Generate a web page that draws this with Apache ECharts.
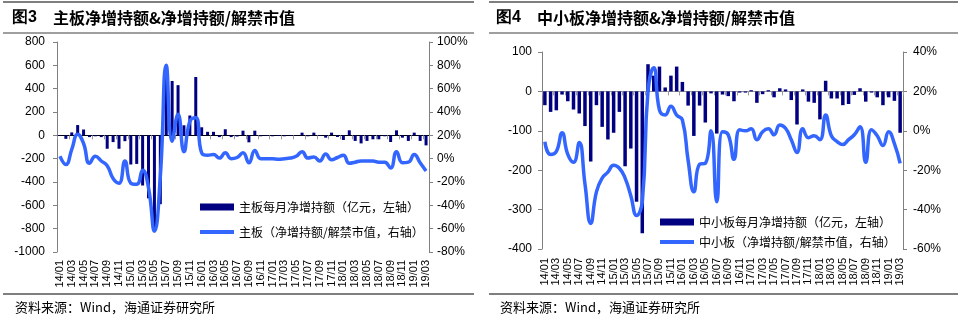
<!DOCTYPE html>
<html><head><meta charset="utf-8">
<script src="https://cdn.jsdelivr.net/npm/echarts@6/dist/echarts.min.js"></script>
<style>html,body{margin:0;padding:0;background:#fff}#c{width:969px;height:323px}</style>
</head><body><div id="c"></div>
<script>
const months = ['14/01','14/02','14/03','14/04','14/05','14/06','14/07','14/08','14/09','14/10','14/11','14/12',
'15/01','15/02','15/03','15/04','15/05','15/06','15/07','15/08','15/09','15/10','15/11','15/12',
'16/01','16/02','16/03','16/04','16/05','16/06','16/07','16/08','16/09','16/10','16/11','16/12',
'17/01','17/02','17/03','17/04','17/05','17/06','17/07','17/08','17/09','17/10','17/11','17/12',
'18/01','18/02','18/03','18/04','18/05','18/06','18/07','18/08','18/09','18/10','18/11','18/12',
'19/01','19/02','19/03'];

// 主板每月净增持额（亿元）
const mainNet = [-5,-30,25,88,50,-15,-8,-15,-115,-58,-115,-50,
-250,-245,-430,-540,-830,-590,600,466,430,86,170,500,
69,30,30,-15,52,-15,-10,40,-60,40,-8,-5,
-8,-5,-8,-5,-3,23,-8,23,-5,-20,23,-14,
-40,43,-48,-69,-48,-34,-34,-8,-57,43,-20,-48,
23,-48,-86];
// 主板（净增持额/解禁市值，%）
const mainRatio = [2,-5,8,21,13,-4,2,-2,-6,-17,-21,-2,
-21,-22,-10,-25,-62,-15,80,15,38,6,32,35,
5,3,3.5,0.5,5,0,1,5,-3.5,7,0,0,
0,-0.5,0,0.5,2,6,0.5,1.5,-2,4,-1,1,
3,-4,-3,-2,-2,-2,-3,-3,-8,6,-3.5,-3,
3.5,-3.5,-10.5];
// 中小板每月净增持额（亿元）
const smeNet = [-35,-52,-48,-8,-25,-46,-56,-88,-178,-35,-90,-122,
-105,-52,-190,-145,-280,-360,69,40,63,10,40,63,
24,-36,-113,-36,-79,-5,-107,-8,-12,-25,-3,-3,
3,-29,-7,3,-15,8,5,-22,-84,5,-26,-29,
-71,27,-18,-18,-35,-32,-9,8,-26,-3,-15,-35,
-15,-24,-105];
// 中小板（净增持额/解禁市值，%）
const smeRatio = [-5.5,-12,-10.5,-1,-12,-16,-6,-27,-47,-31,-24,-21,
-17.5,-19,-24,-33,-43,-36,20,32,10.5,8,12.5,8,
5.5,-15,-31,-17,-16.5,0,-36,-0.5,-2,-14.5,0.5,0,
1,-4.5,-0.5,1,-2,3,1.3,-4.5,-11,1,-3.5,-2.5,
-4.5,8,-2.5,-5.5,-7,-4.5,-2,2,-16,0.5,-2.5,-7.5,
-0.5,-6.5,-16.5];

const leftTitleNo = '图3', leftTitle = '主板净增持额&净增持额/解禁市值';
const rightTitleNo = '图4', rightTitle = '中小板净增持额&净增持额/解禁市值';
const source = '资料来源：Wind，海通证券研究所';
const names = ['主板每月净增持额（亿元，左轴）','主板（净增持额/解禁市值，右轴）','中小板每月净增持额（亿元，左轴）','中小板（净增持额/解禁市值，右轴）'];

const NUM = 'Liberation Sans, Arial, sans-serif';
const CJK = 'Noto Sans CJK SC, sans-serif';
const BAR = '#000080', LINE = '#3366FF';
const lineIcon = 'path://M0,0H34V4H0Z';

function xZero(g, color){
  return {type:'category', gridIndex:g, data:months, position:'bottom',
    axisLine:{show:true, onZero:true, lineStyle:{color:color, width:1}},
    axisTick:{show:true, interval:1, length:4, lineStyle:{color:'#999'}},
    axisLabel:{show:false}, splitLine:{show:false}};
}
function xLab(g, margin){
  return {type:'category', gridIndex:g, data:months, position:'bottom',
    axisLine:{show:false, onZero:false}, axisTick:{show:false},
    axisLabel:{show:true, rotate:90, interval:1, fontSize:11, fontFamily:NUM, color:'#000', margin:margin},
    splitLine:{show:false}};
}
function yAx(g, pos, min, max, itv, pct, margin){
  return {type:'value', gridIndex:g, position:pos, min:min, max:max, interval:itv,
    axisLine:{show:true, lineStyle:{color:'#808080'}},
    axisTick:{show:true, length:4, lineStyle:{color:'#808080'}},
    axisLabel:{fontSize:12, fontFamily:NUM, color:'#000', margin:margin,
      formatter: v => pct ? (v + '%') : String(v)},
    splitLine:{show:false}};
}

const chart = echarts.init(document.getElementById('c'), null, {renderer:'canvas'});
const panelLine = (x1,x2,y,w)=>({type:'line', shape:{x1:x1,y1:y,x2:x2,y2:y}, style:{stroke:'#7f7f7f', lineWidth:w}, silent:true});
chart.setOption({
  animation:false,
  backgroundColor:'#fff',
  grid:[{left:57, top:42, width:372, height:210},{left:542, top:52, width:361, height:197}],
  xAxis:[xZero(0,'#000'), xLab(0,8), xZero(1,'#999'), xLab(1,9)],
  yAxis:[yAx(0,'left',-1000,800,200,false,12), yAx(0,'right',-80,100,20,true,8),
         yAx(1,'left',-400,100,100,false,10), yAx(1,'right',-60,40,20,true,10)],
  legend:[
    {orient:'vertical', left:195, top:196, itemGap:13, itemWidth:34, itemHeight:7,
     textStyle:{fontFamily:CJK, fontSize:12, color:'#000'},
     data:[{name:names[0], icon:'rect'}, {name:names[1], icon:lineIcon}]},
    {orient:'vertical', left:655, top:211, itemGap:8, itemWidth:34, itemHeight:7,
     textStyle:{fontFamily:CJK, fontSize:12, color:'#000'},
     data:[{name:names[2], icon:'rect'}, {name:names[3], icon:lineIcon}]}
  ],
  series:[
    {name:names[0], type:'bar', xAxisIndex:0, yAxisIndex:0, data:mainNet, barWidth:3, itemStyle:{color:BAR}, z:2},
    {name:names[1], type:'line', xAxisIndex:0, yAxisIndex:1, data:mainRatio, smooth:0.5, symbol:'none', showSymbol:false,
     lineStyle:{color:LINE, width:3.5}, itemStyle:{color:LINE}, z:3},
    {name:names[2], type:'bar', xAxisIndex:2, yAxisIndex:2, data:smeNet, barWidth:3.5, itemStyle:{color:BAR}, z:2},
    {name:names[3], type:'line', xAxisIndex:2, yAxisIndex:3, data:smeRatio, smooth:0.5, symbol:'none', showSymbol:false,
     lineStyle:{color:LINE, width:3.5}, itemStyle:{color:LINE}, z:3}
  ],
  graphic:[
    panelLine(3,474,2,2), panelLine(3,474,33,1.5), panelLine(3,474,294,2),
    panelLine(489,958,2,2), panelLine(489,958,33,1.5), panelLine(489,958,294,2),
    {type:'text', x:12, y:18, style:{text:leftTitleNo, font:'bold 16px '+NUM, fill:'#000', textVerticalAlign:'middle'}},
    {type:'text', x:53, y:18, style:{text:leftTitle, font:'bold 16px '+CJK, fill:'#000', textVerticalAlign:'middle'}},
    {type:'text', x:496, y:18, style:{text:rightTitleNo, font:'bold 16px '+NUM, fill:'#000', textVerticalAlign:'middle'}},
    {type:'text', x:537, y:18, style:{text:rightTitle, font:'bold 16px '+CJK, fill:'#000', textVerticalAlign:'middle'}},
    {type:'text', x:15, y:307, style:{text:source, font:'13px '+CJK, fill:'#000', textVerticalAlign:'middle'}},
    {type:'text', x:500, y:307, style:{text:source, font:'13px '+CJK, fill:'#000', textVerticalAlign:'middle'}}
  ]
});
</script></body></html>
